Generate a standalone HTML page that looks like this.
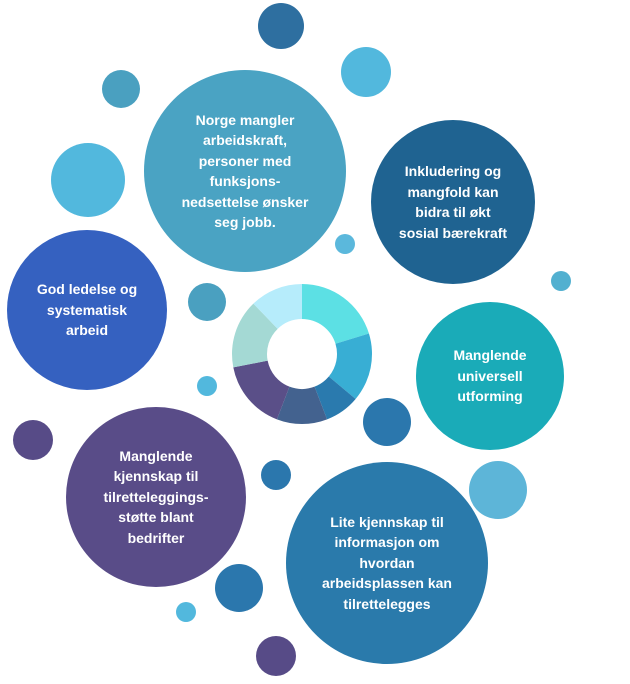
<!DOCTYPE html>
<html><head><meta charset="utf-8"><style>
body{margin:0;width:630px;height:684px;background:#fff;position:relative;overflow:hidden;font-family:"Liberation Sans",sans-serif}
.c{position:absolute;border-radius:50%;display:flex;align-items:center;justify-content:center;text-align:center;color:#fff;font-weight:bold;font-size:14px;line-height:20.5px}
</style></head><body>
<div id="w"></div>
<svg width="630" height="684" style="position:absolute;left:0;top:0" id="d"></svg>
<script>
var C=[
[281,26,23,'#2e6fa0',''],
[366,72,25,'#52b8dd',''],
[121,89,19,'#4aa0c0',''],
[245,171,101,'#4aa3c3','Norge mangler<br>arbeidskraft,<br>personer med<br>funksjons-<br>nedsettelse ønsker<br>seg jobb.'],
[453,202,82,'#1f6391','Inkludering og<br>mangfold kan<br>bidra til økt<br>sosial bærekraft'],
[88,180,37,'#52b8dd',''],
[345,244,10,'#5bb8dc',''],
[561,281,10,'#52b0d0',''],
[87,310,80,'#3561c0','God ledelse og<br>systematisk<br>arbeid'],
[207,302,19,'#4aa0c0',''],
[490,376,74,'#1aabb8','Manglende<br>universell<br>utforming'],
[207,386,10,'#52b8dd',''],
[387,422,24,'#2b77ad',''],
[33,440,20,'#574b87',''],
[156,497,90,'#594c88','Manglende<br>kjennskap til<br>tilretteleggings-<br>støtte blant<br>bedrifter'],
[276,475,15,'#2b77ad',''],
[498,490,29,'#5db5d8',''],
[387,563,101,'#2a7aab','Lite kjennskap til<br>informasjon om<br>hvordan<br>arbeidsplassen kan<br>tilrettelegges'],
[239,588,24,'#2b77ad',''],
[186,612,10,'#52b8dd',''],
[276,656,20,'#574b87','']];
var h='';C.forEach(function(c){h+='<div class="c" style="left:'+(c[0]-c[2])+'px;top:'+(c[1]-c[2])+'px;width:'+2*c[2]+'px;height:'+2*c[2]+'px;background:'+c[3]+'"><div>'+c[4]+'</div></div>'});
document.getElementById('w').innerHTML=h;
var cx=302,cy=354,R=70,r=35,b=[0,73,130,159,201,259,316,360],col=['#5ce0e4','#38aed4','#2a7aae','#43628f','#5a4f88','#a4d9d4','#b6ecfb'],s='';
function p(a,rr){a=a*Math.PI/180;return (cx+rr*Math.sin(a)).toFixed(2)+' '+(cy-rr*Math.cos(a)).toFixed(2)}
for(var i=0;i<7;i++){var a0=b[i],a1=b[i+1],L=(a1-a0)>180?1:0;
s+='<path fill="'+col[i]+'" d="M'+p(a0,R)+' A'+R+' '+R+' 0 '+L+' 1 '+p(a1,R)+' L'+p(a1,r)+' A'+r+' '+r+' 0 '+L+' 0 '+p(a0,r)+'Z"/>';}
document.getElementById('d').innerHTML=s;
</script>
</body></html>
